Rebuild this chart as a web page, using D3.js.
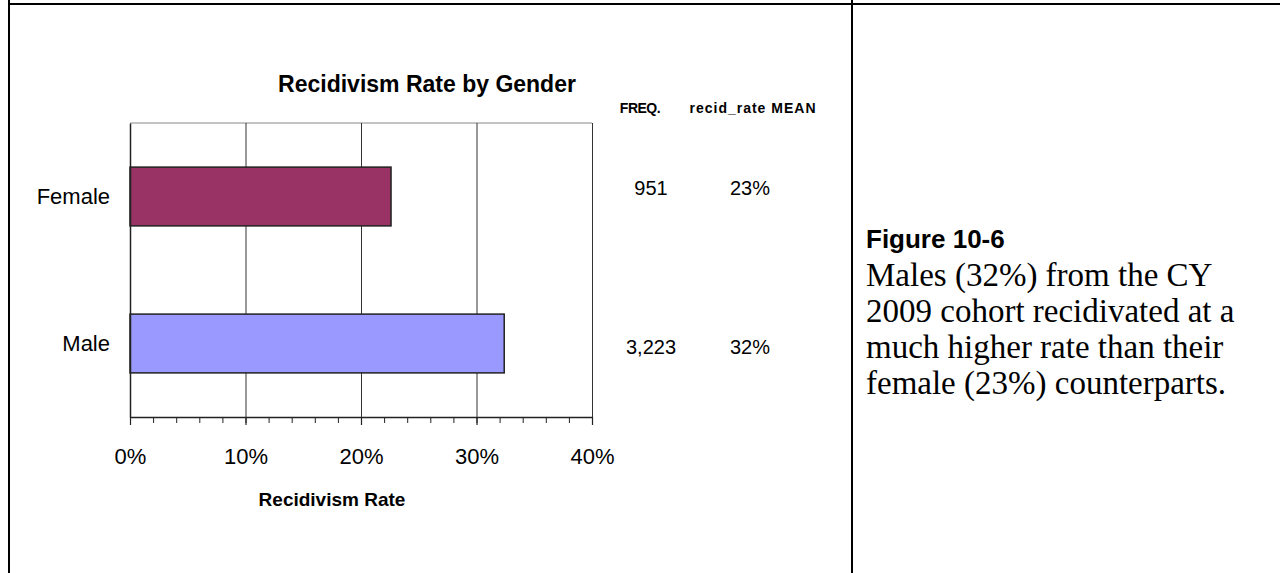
<!DOCTYPE html>
<html>
<head>
<meta charset="utf-8">
<script src="https://cdn.jsdelivr.net/npm/d3@7"></script>
<style>
  body { margin: 0; background: #fff; }
  svg { display: block; }
</style>
</head>
<body>
<div id="chart"></div>
<script>
// data
const genders = ['Female', 'Male'];
const rates = [0.226, 0.324];
const freqLabels = ['951', '3,223'];
const meanLabels = ['23%', '32%'];
const majorTicks = [0, 0.1, 0.2, 0.3, 0.4];
const barColors = ['#993366', '#9999ff'];

const width = 1280, height = 573;
// plot area (pixels inside the page)
const plot = {left: 130, right: 592, top: 123, bottom: 417};
const sans = 'Arial, "Liberation Sans", sans-serif';
const serif = '"Times New Roman", "Liberation Serif", serif';

let svg = d3.select('#chart').append('svg')
    .attr('width', width)
    .attr('height', height);

// page frame: left edge, top rule and column divider
svg.append('line').attr('x1', 9).attr('x2', 9).attr('y1', 0).attr('y2', height)
    .attr('stroke', '#000').attr('stroke-width', 2);
svg.append('line').attr('x1', 9).attr('x2', width).attr('y1', 4).attr('y2', 4)
    .attr('stroke', '#000').attr('stroke-width', 2);
svg.append('line').attr('x1', 852).attr('x2', 852).attr('y1', 0).attr('y2', height)
    .attr('stroke', '#000').attr('stroke-width', 2);

let x = d3.scaleLinear()
    .domain([0, 0.4])
    .range([plot.left, plot.right]);

let y = d3.scaleBand()
    .domain(genders)
    .range([plot.top, plot.bottom])
    .paddingInner(0.6)
    .paddingOuter(0.3);

// top border of plot
svg.append('line')
    .attr('x1', plot.left).attr('x2', plot.right)
    .attr('y1', plot.top).attr('y2', plot.top)
    .attr('stroke', '#888').attr('stroke-width', 1);

// vertical gridlines
svg.append('g')
    .attr('transform', `translate(0,${plot.bottom})`)
    .call(d3.axisBottom(x).tickValues(majorTicks.slice(1)).tickSize(-(plot.bottom - plot.top)).tickFormat(''))
    .call(g => g.select('.domain').remove())
    .call(g => g.selectAll('line').attr('stroke', '#333').attr('stroke-width', 1));

// bars
svg.append('g')
    .selectAll('rect')
    .data(genders)
    .enter().append('rect')
        .attr('x', x(0))
        .attr('y', d => y(d))
        .attr('width', (d, i) => x(rates[i]) - x(0))
        .attr('height', y.bandwidth())
        .attr('fill', (d, i) => barColors[i])
        .attr('stroke', '#222')
        .attr('stroke-width', 1.5);

// minor ticks every 2%
svg.append('g')
    .attr('transform', `translate(0,${plot.bottom})`)
    .call(d3.axisBottom(x).ticks(20).tickSize(6).tickSizeOuter(0).tickFormat(''))
    .call(g => g.select('.domain').remove())
    .call(g => g.selectAll('line').attr('stroke', '#222').attr('stroke-width', 1));

// x axis
svg.append('g')
    .attr('transform', `translate(0,${plot.bottom})`)
    .call(d3.axisBottom(x).tickValues(majorTicks).tickSize(8).tickSizeOuter(0).tickPadding(23).tickFormat(d3.format('.0%')))
    .call(g => g.select('.domain').attr('stroke', '#222').attr('stroke-width', 1.5))
    .call(g => g.selectAll('line').attr('stroke', '#222').attr('stroke-width', 1.2))
    .call(g => g.selectAll('text')
        .attr('fill', '#000')
        .attr('font-family', sans)
        .attr('font-size', 22));

// y axis (line + labels only)
svg.append('g')
    .attr('transform', `translate(${plot.left},0)`)
    .call(d3.axisLeft(y).tickSize(0).tickPadding(20))
    .call(g => g.select('.domain').attr('stroke', '#222').attr('stroke-width', 1.5))
    .call(g => g.selectAll('text')
        .attr('fill', '#000')
        .attr('font-family', sans)
        .attr('font-size', 22));

// chart title and axis title
svg.append('text')
    .attr('x', 427).attr('y', 92)
    .attr('text-anchor', 'middle')
    .attr('font-family', sans)
    .attr('font-weight', 'bold')
    .attr('font-size', 23)
    .text('Recidivism Rate by Gender');

svg.append('text')
    .attr('x', 332).attr('y', 506)
    .attr('text-anchor', 'middle')
    .attr('font-family', sans)
    .attr('font-weight', 'bold')
    .attr('font-size', 19)
    .text('Recidivism Rate');

// summary table beside the bars
svg.append('text')
    .attr('x', 640).attr('y', 113)
    .attr('text-anchor', 'middle')
    .attr('font-family', sans)
    .attr('font-weight', 'bold')
    .attr('font-size', 14)
    .attr('letter-spacing', -0.5)
    .text('FREQ.');

svg.append('text')
    .attr('x', 753).attr('y', 113)
    .attr('text-anchor', 'middle')
    .attr('font-family', sans)
    .attr('font-weight', 'bold')
    .attr('font-size', 14)
    .attr('letter-spacing', 1)
    .text('recid_rate MEAN');

const rowY = [195, 354];
let rows = svg.append('g')
    .selectAll('g')
    .data(genders)
    .enter().append('g')
        .attr('transform', (d, i) => `translate(0,${rowY[i]})`)
        .attr('font-family', sans)
        .attr('font-size', 20)
        .attr('text-anchor', 'middle');

rows.append('text').attr('x', 651).text((d, i) => freqLabels[i]);
rows.append('text').attr('x', 750).text((d, i) => meanLabels[i]);

// figure caption on the right
svg.append('text')
    .attr('x', 866).attr('y', 248)
    .attr('font-family', sans)
    .attr('font-weight', 'bold')
    .attr('font-size', 26)
    .text('Figure 10-6');

const captionLines = [
    'Males (32%) from the CY',
    '2009 cohort recidivated at a',
    'much higher rate than their',
    'female (23%) counterparts.'
];
svg.append('g')
    .selectAll('text')
    .data(captionLines)
    .enter().append('text')
        .attr('x', 866)
        .attr('y', (d, i) => 286 + i * 36)
        .attr('font-family', serif)
        .attr('font-size', 33)
        .text(d => d);
</script>
</body>
</html>
